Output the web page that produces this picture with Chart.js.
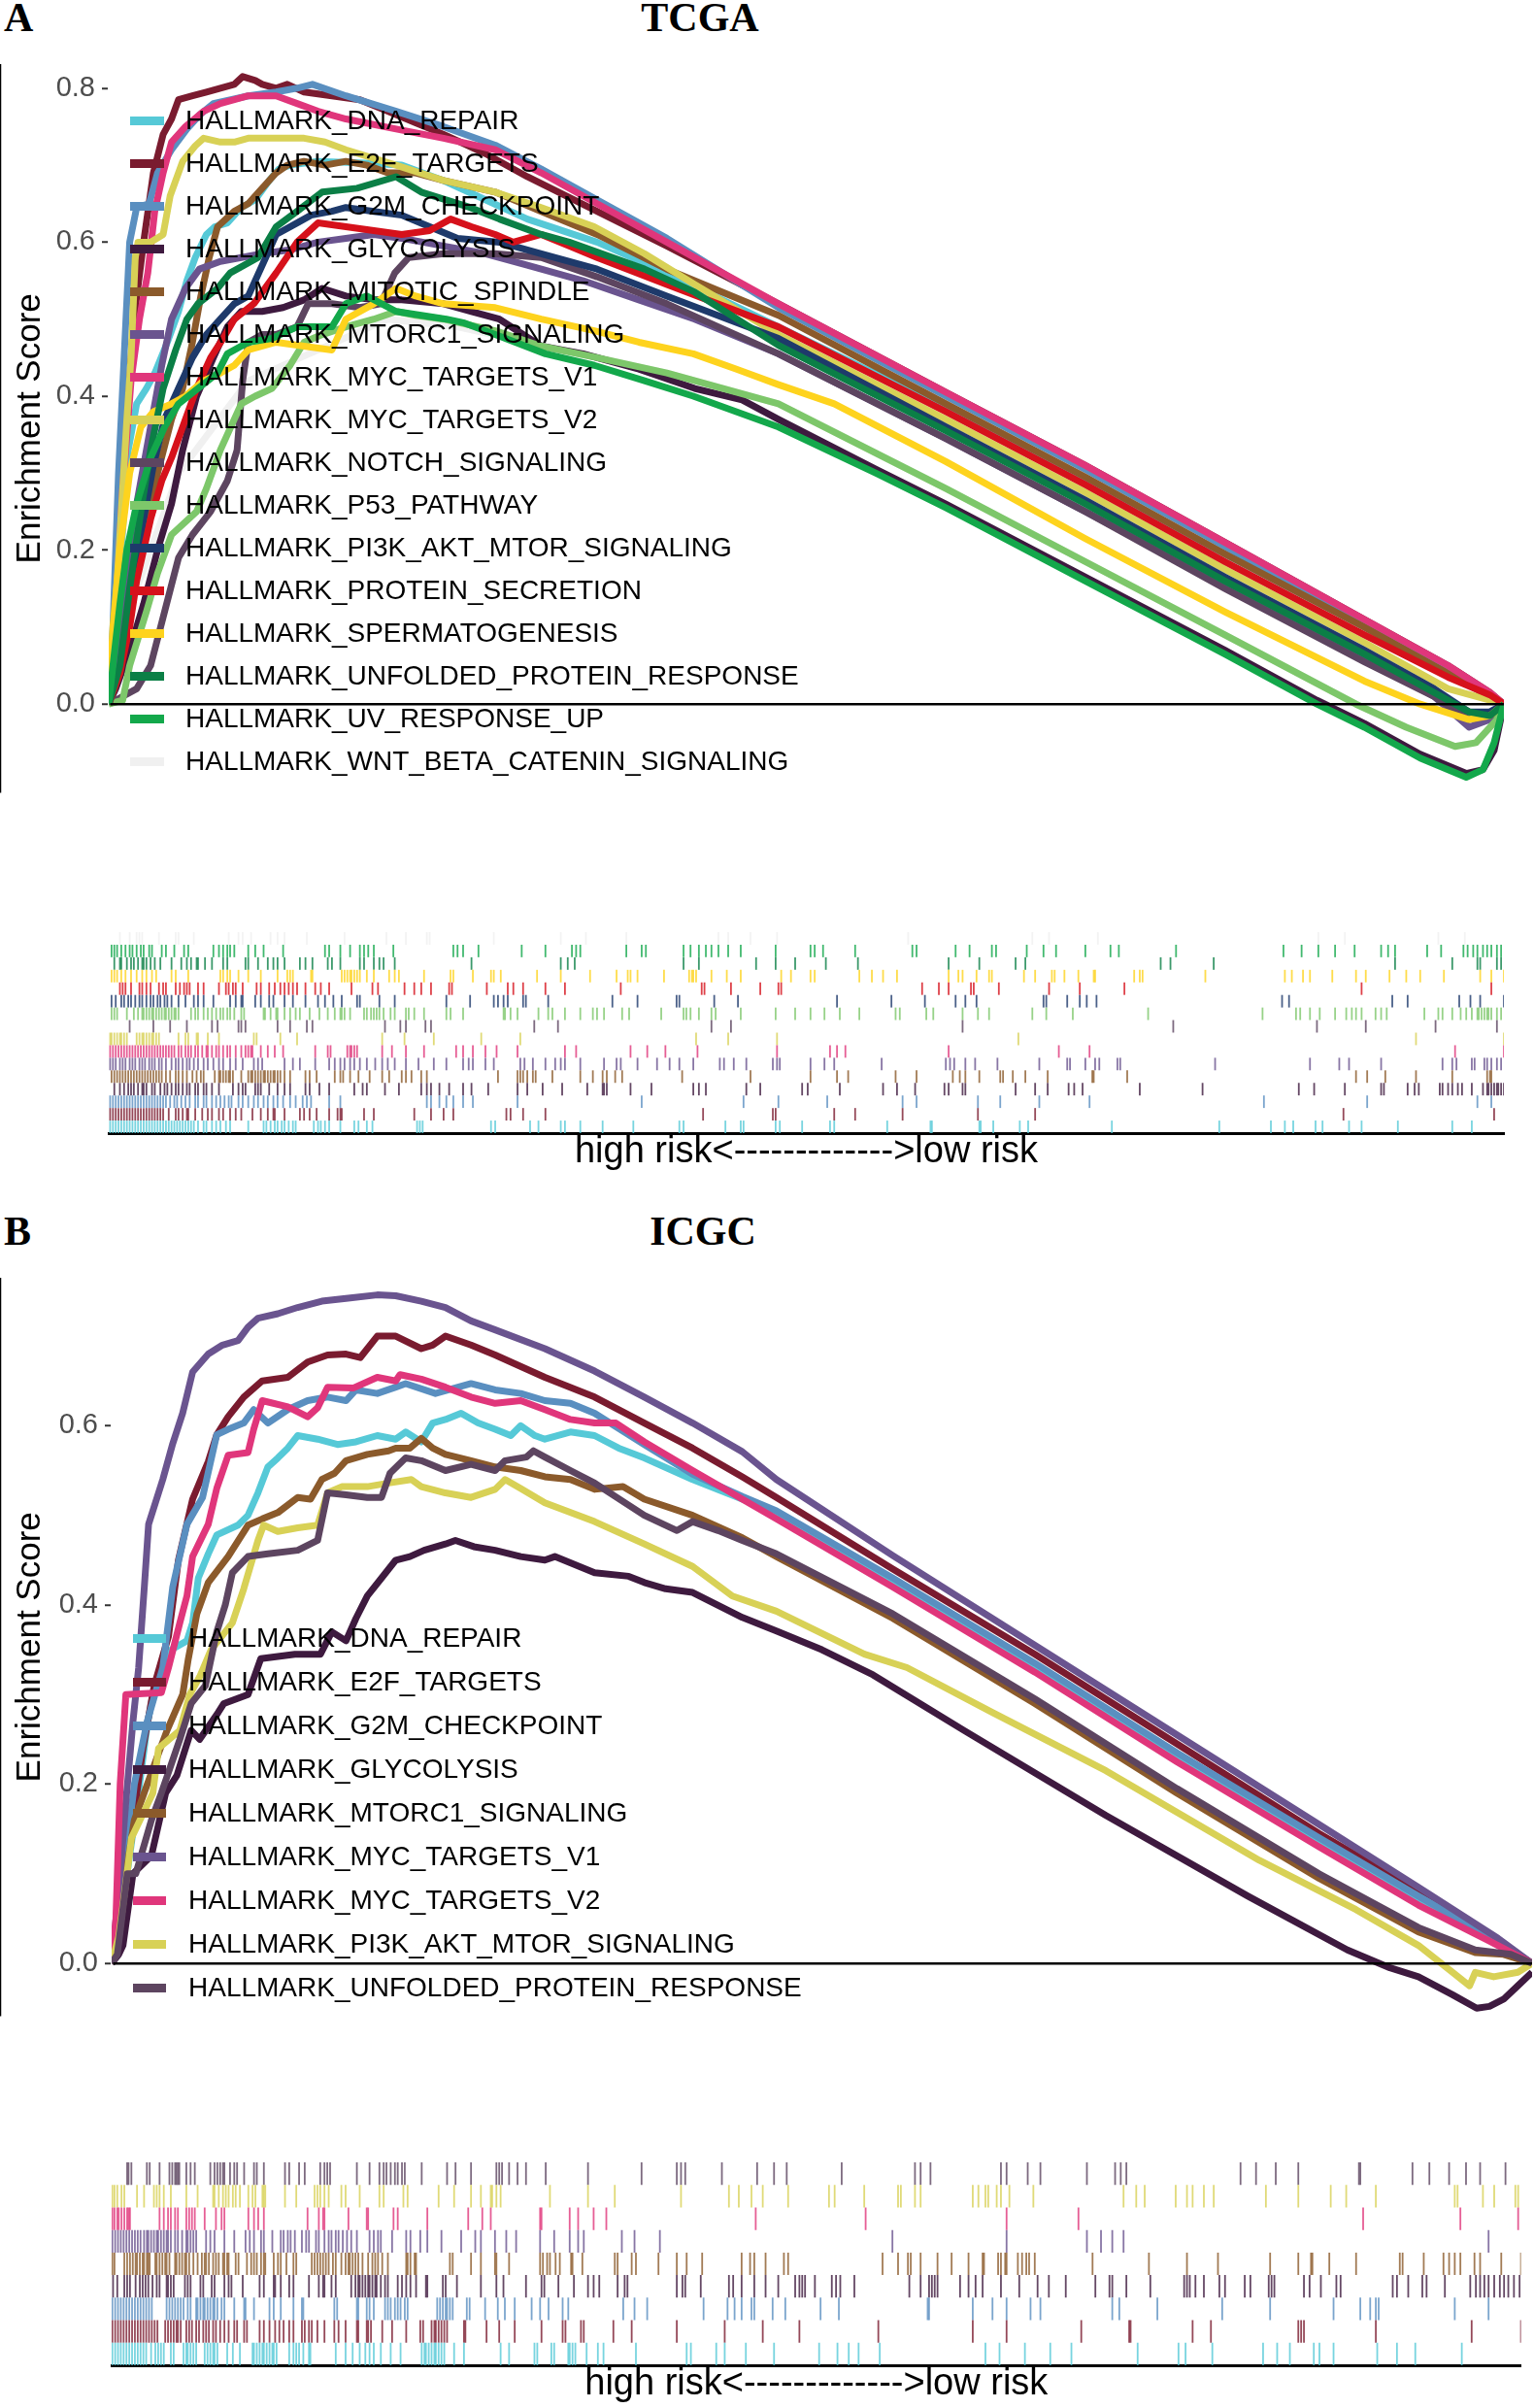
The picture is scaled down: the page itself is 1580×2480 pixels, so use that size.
<!DOCTYPE html>
<html>
<head>
<meta charset="utf-8">
<script src="https://cdn.jsdelivr.net/npm/chart.js@4.4.1/dist/chart.umd.min.js"></script>
<style>
body { margin: 0; background: #fff; width: 1580px; height: 2480px; position: relative; overflow: hidden; font-family: 'Liberation Sans', Arial, sans-serif; }
canvas { position: absolute; left: 0; }
.panel { position: absolute; font-family: 'Liberation Serif', 'Times New Roman', serif; font-weight: bold; font-size: 42px; line-height: 42px; color: #000; white-space: nowrap; }
.leg { position: absolute; font-size: 28px; line-height: 44px; color: #000; white-space: nowrap; }
.sw { position: absolute; height: 9px; }
</style>
</head>
<body>
<div class="panel" style="left:4px;top:-3px">A</div>
<div class="panel" style="left:721px;top:-3px;transform:translateX(-50%)">TCGA</div>
<div class="panel" style="left:4px;top:1247px">B</div>
<div class="panel" style="left:724px;top:1247px;transform:translateX(-50%)">ICGC</div>

<canvas id="tcgaLines" width="1580" height="800" style="top:40px"></canvas>
<canvas id="tcgaRug" width="1580" height="267" style="top:940px"></canvas>
<canvas id="icgcLines" width="1580" height="810" style="top:1290px"></canvas>
<canvas id="icgcRug" width="1580" height="276" style="top:2200px"></canvas>

<script>
// ---------- TCGA (panel A) ----------
const tcgaNames = [
  'HALLMARK_DNA_REPAIR', 'HALLMARK_E2F_TARGETS', 'HALLMARK_G2M_CHECKPOINT', 'HALLMARK_GLYCOLYSIS',
  'HALLMARK_MITOTIC_SPINDLE', 'HALLMARK_MTORC1_SIGNALING', 'HALLMARK_MYC_TARGETS_V1', 'HALLMARK_MYC_TARGETS_V2',
  'HALLMARK_NOTCH_SIGNALING', 'HALLMARK_P53_PATHWAY', 'HALLMARK_PI3K_AKT_MTOR_SIGNALING', 'HALLMARK_PROTEIN_SECRETION',
  'HALLMARK_SPERMATOGENESIS', 'HALLMARK_UNFOLDED_PROTEIN_RESPONSE', 'HALLMARK_UV_RESPONSE_UP', 'HALLMARK_WNT_BETA_CATENIN_SIGNALING'
];
const tcgaColors = [
  '#56C9D7', '#7A1B2F', '#5A8FC0', '#3E1A3F', '#8B5A2B', '#6A548F', '#E0367B', '#D8D156',
  '#5D4560', '#7DC76A', '#1E3A6B', '#D6111B', '#FED31E', '#0B7F46', '#13A84B', '#F0F0F0'
];
const tcgaTicks = [0, 0.2, 0.4, 0.6, 0.8];
// the near-white WNT set is hidden under the others in the original
const tcgaUnderneath = ['HALLMARK_WNT_BETA_CATENIN_SIGNALING'];

// running enrichment score, [rank %, ES]
const tcgaDnaRepair = [[0,0],[0.4,0.08],[0.9,0.2],[1.4,0.33],[2,0.39],[2.7,0.41],[3.3,0.43],[4.2,0.47],[5,0.51],[5.6,0.55],[6.2,0.58],[7,0.61],[7.6,0.62],[8.5,0.625],[9.5,0.645],[10.5,0.655],[11.5,0.68],[12.2,0.695],[13,0.7],[15,0.705],[18,0.703],[21,0.7],[24,0.68],[27,0.655],[30,0.63],[35,0.6],[40,0.56],[48,0.49],[60,0.385],[70,0.29],[80,0.195],[90,0.1],[96,0.04],[98.5,0.015],[100,0]];
const tcgaE2fTargets = [[0,0],[0.5,0.1],[1,0.3],[1.8,0.5],[2.5,0.6],[3.2,0.69],[3.9,0.74],[4.5,0.76],[5,0.785],[6,0.79],[7,0.795],[8,0.8],[9,0.805],[9.6,0.815],[10.5,0.81],[11,0.805],[12,0.8],[12.8,0.805],[14,0.795],[16,0.79],[18,0.785],[20,0.77],[22,0.755],[24,0.74],[27,0.715],[30,0.685],[35,0.64],[40,0.595],[48,0.52],[60,0.405],[70,0.31],[80,0.21],[90,0.11],[96,0.05],[99,0.015],[100,0]];
const tcgaG2mCheckpoint = [[0,0],[0.3,0.1],[0.7,0.3],[1.1,0.45],[1.5,0.6],[2,0.645],[2.9,0.65],[3.5,0.69],[4,0.705],[4.5,0.72],[5.6,0.747],[6.5,0.765],[7.5,0.78],[10,0.79],[12,0.795],[13.5,0.8],[14.6,0.805],[17,0.79],[20.6,0.77],[24,0.75],[27.7,0.726],[31,0.695],[35,0.655],[40,0.605],[48,0.515],[60,0.4],[70,0.305],[80,0.205],[90,0.105],[96,0.045],[99,0.012],[100,0]];
const tcgaGlycolysis = [[0,0],[0.5,0.02],[1.5,0.07],[2.5,0.13],[3.5,0.2],[4.5,0.26],[5.3,0.33],[6.3,0.4],[7.5,0.45],[8.5,0.49],[9.5,0.51],[11,0.51],[12.5,0.515],[14,0.525],[15.3,0.54],[17,0.53],[19,0.525],[21,0.525],[24,0.52],[26,0.51],[28,0.5],[31,0.465],[34,0.455],[38,0.435],[42,0.41],[45.4,0.395],[48,0.37],[55,0.305],[60,0.26],[70,0.165],[80,0.07],[86.6,0.005],[90,-0.025],[94,-0.065],[97.3,-0.09],[98.5,-0.085],[99.3,-0.06],[100,0]];
const tcgaMitoticSpindle = [[0,0],[0.5,0.03],[1.5,0.12],[2.5,0.22],[3.5,0.3],[4.5,0.37],[5.3,0.41],[6,0.47],[6.6,0.53],[7.2,0.58],[7.8,0.62],[9,0.64],[10,0.65],[11,0.67],[12,0.69],[12.8,0.7],[14,0.705],[15.5,0.7],[17,0.705],[18.5,0.7],[20,0.69],[22,0.69],[24,0.68],[27.7,0.665],[31,0.64],[35,0.61],[40,0.565],[48,0.505],[60,0.39],[70,0.295],[80,0.195],[90,0.1],[96,0.04],[99,0.01],[100,0]];
const tcgaMtorc1Signaling = [[0,0],[0.5,0.05],[1.2,0.15],[2,0.26],[3,0.36],[3.8,0.44],[4.5,0.5],[5.5,0.54],[6.5,0.565],[8,0.575],[9.5,0.58],[11,0.585],[13,0.59],[15,0.6],[17,0.605],[19,0.61],[21,0.605],[24,0.595],[27,0.585],[30,0.57],[34,0.55],[38,0.525],[42,0.5],[48,0.455],[60,0.345],[70,0.25],[80,0.155],[90,0.06],[95,0.01],[97.5,-0.03],[99,-0.02],[100,0]];
const tcgaMycTargetsV1 = [[0,0],[0.5,0.12],[1,0.28],[1.6,0.42],[2.2,0.5],[2.8,0.56],[3.3,0.64],[3.9,0.69],[4.5,0.73],[5.5,0.75],[6.8,0.77],[8,0.78],[10,0.79],[12,0.79],[13.5,0.78],[15,0.77],[17,0.76],[20.6,0.747],[24,0.735],[27.7,0.72],[31,0.69],[35,0.65],[40,0.6],[48,0.52],[60,0.405],[70,0.31],[80,0.21],[90,0.11],[96,0.05],[99,0.015],[100,0]];
const tcgaMycTargetsV2 = [[0,0],[0.4,0.1],[0.9,0.25],[1.3,0.37],[1.6,0.45],[1.9,0.58],[2.1,0.6],[3,0.6],[3.9,0.61],[4.4,0.66],[5.3,0.705],[6.2,0.725],[6.8,0.735],[8,0.73],[9,0.73],[10,0.735],[12,0.735],[14,0.735],[15.5,0.73],[17,0.72],[20.6,0.7],[24,0.68],[27.7,0.665],[31,0.645],[34.8,0.62],[38.4,0.585],[42,0.545],[48,0.48],[60,0.37],[70,0.275],[80,0.175],[90,0.08],[96,0.02],[99,0.005],[100,0]];
const tcgaNotchSignaling = [[0,0],[1,0.01],[2,0.02],[3,0.05],[4,0.12],[5,0.19],[6,0.22],[7.3,0.25],[8.5,0.29],[9.2,0.33],[9.6,0.42],[10,0.47],[11,0.48],[12,0.48],[13.5,0.49],[14.3,0.52],[16,0.52],[18,0.515],[19.5,0.52],[20.5,0.56],[21.5,0.58],[24,0.585],[27.7,0.585],[31,0.58],[35,0.555],[40,0.52],[48,0.455],[60,0.345],[70,0.25],[80,0.15],[90,0.055],[95,0.01],[97.5,-0.02],[99,-0.015],[100,0]];
const tcgaP53Pathway = [[0,0],[1,0.005],[1.5,0.05],[2.7,0.12],[3.5,0.17],[4.5,0.22],[6.3,0.25],[7,0.28],[8,0.33],[9.5,0.39],[10.5,0.4],[11.7,0.41],[13,0.44],[14,0.47],[15.3,0.48],[17,0.49],[19,0.5],[20.6,0.51],[22,0.505],[24,0.5],[27.7,0.485],[31,0.465],[35,0.45],[40,0.43],[48,0.39],[60,0.28],[70,0.185],[80,0.09],[89.4,0],[93,-0.03],[96.5,-0.055],[98,-0.05],[99.5,-0.02],[100,0]];
const tcgaPi3kAktMtorSignaling = [[0,0],[0.8,0.04],[1.5,0.12],[2.3,0.22],[3.2,0.31],[4,0.37],[5,0.41],[6,0.45],[7,0.48],[8,0.5],[9,0.52],[10,0.53],[11,0.57],[12,0.61],[13.5,0.625],[14.5,0.635],[16,0.64],[17,0.645],[19,0.64],[21,0.635],[23,0.62],[25,0.605],[28,0.6],[31,0.585],[35,0.565],[40,0.53],[48,0.475],[60,0.36],[70,0.265],[80,0.165],[90,0.07],[95,0.02],[97.5,-0.01],[99,-0.01],[100,0]];
const tcgaProteinSecretion = [[0,0],[0.8,0.04],[1.5,0.1],[2,0.16],[3,0.24],[3.8,0.29],[4.5,0.32],[5.5,0.37],[6.3,0.41],[7.3,0.45],[8.2,0.475],[9,0.5],[10.4,0.52],[12,0.56],[13.5,0.6],[15,0.625],[17,0.62],[19,0.615],[21,0.61],[23,0.615],[24.5,0.63],[26,0.62],[27.7,0.61],[29,0.6],[31,0.61],[33,0.595],[35,0.58],[40,0.545],[48,0.49],[60,0.38],[70,0.285],[80,0.185],[90,0.09],[96,0.035],[99,0.012],[100,0]];
const tcgaSpermatogenesis = [[0,0],[0.3,0.1],[0.8,0.2],[1.5,0.3],[2.3,0.36],[3.2,0.38],[4.5,0.39],[5.5,0.4],[6.8,0.42],[8,0.43],[9,0.44],[10,0.46],[12,0.47],[14,0.465],[16,0.46],[17,0.5],[19,0.52],[20.6,0.54],[22,0.53],[24,0.52],[27.7,0.515],[31,0.5],[34.8,0.485],[38,0.47],[41.9,0.455],[45,0.435],[48,0.415],[52,0.39],[60,0.315],[70,0.215],[80,0.12],[90,0.03],[94,0],[97.5,-0.02],[99,-0.015],[100,0]];
const tcgaUnfoldedProteinResponse = [[0,0],[0.8,0.05],[1.5,0.15],[2.3,0.25],[3,0.33],[3.9,0.41],[4.8,0.46],[5.6,0.5],[6.4,0.52],[7.8,0.54],[8.7,0.56],[10.7,0.58],[12,0.62],[13.5,0.64],[15.3,0.665],[17.8,0.67],[20.6,0.685],[22.4,0.665],[25.9,0.645],[28,0.63],[31,0.61],[33,0.6],[38.4,0.565],[42,0.535],[48,0.466],[60,0.355],[70,0.26],[80,0.16],[90,0.065],[95,0.015],[97.5,-0.01],[99,-0.015],[100,0]];
const tcgaUvResponseUp = [[0,0],[0.3,0.05],[0.8,0.13],[1.3,0.2],[2,0.26],[3,0.32],[4,0.36],[5,0.39],[6.4,0.41],[7.8,0.43],[8.5,0.455],[10,0.47],[11.7,0.475],[13.5,0.49],[16,0.49],[17,0.52],[18.5,0.53],[20.6,0.51],[22.4,0.505],[24.2,0.5],[25.5,0.495],[27.7,0.48],[31.3,0.455],[34.8,0.44],[38.4,0.42],[41.9,0.4],[48,0.36],[55,0.3],[60,0.255],[70,0.16],[80,0.065],[86.6,0],[90,-0.03],[94,-0.07],[97.3,-0.095],[98.5,-0.085],[99.3,-0.05],[100,0]];
const tcgaWntBetaCateninSignaling = [[0,0],[2,0.15],[5,0.3],[10,0.42],[15,0.46],[20,0.5],[25,0.49],[30,0.47],[40,0.43],[48,0.39],[60,0.28],[70,0.185],[80,0.09],[89.4,0],[93,-0.03],[96.5,-0.055],[98,-0.05],[99.5,-0.02],[100,0]];

// gene hit positions in the ranked list (rank %)
const tcgaHitsDnaRepair = [0.1,0.3,0.5,0.7,0.9,1.1,1.3,1.5,1.7,1.9,2.1,2.3,2.5,2.7,2.9,3.1,3.3,3.5,3.7,3.9,4.1,4.3,4.5,4.7,4.9,5.1,5.3,5.5,5.7,5.9,6.1,6.4,6.8,7.0,7.4,7.7,8.0,8.4,8.7,10.0,11.1,11.3,11.6,11.9,12.1,12.4,12.6,12.9,13.2,13.4,14.7,15.0,15.2,15.5,15.8,16.6,17.6,17.9,18.5,18.9,22.1,22.3,22.5,27.4,27.7,30.2,30.8,32.4,32.7,33.8,35.4,37.6,40.9,41.2,44.2,45.3,45.5,47.8,48.1,49.7,51.7,52.0,55.8,58.9,59.0,62.4,62.5,63.4,65.3,65.9,71.9,79.6,83.3,84.3,84.9,86.5,87.0,88.9,89.8,92.4,96.3,97.7];
const tcgaHitsE2fTargets = [0.1,0.3,0.5,0.7,0.9,1.1,1.3,1.5,1.7,1.9,2.1,2.3,2.5,2.7,2.9,3.1,3.3,3.5,3.7,3.9,4.3,4.8,5.0,5.3,5.6,5.7,6.2,6.7,7.1,7.4,7.9,8.2,8.7,9.1,9.5,10.3,10.9,11.4,11.8,11.9,12.6,13.7,14.0,14.4,14.9,15.8,16.4,16.6,16.7,18.3,19.0,21.9,23.1,24.0,24.7,28.5,28.8,29.7,31.3,42.6,47.6,47.8,52.0,53.5,56.9,62.3,66.4,88.5,99.3];
const tcgaHitsG2mCheckpoint = [0.1,0.3,0.5,0.7,0.9,1.1,1.3,1.5,1.7,1.9,2.1,2.3,2.5,2.7,2.9,3.1,3.3,3.5,3.7,3.9,4.1,4.4,4.7,4.9,5.2,5.5,5.8,6.2,6.4,6.8,7.0,7.4,7.7,8.0,8.3,8.6,8.8,9.3,9.6,10.0,10.4,10.7,11.1,11.4,11.8,12.1,12.5,13.0,13.4,13.9,14.2,14.5,15.8,16.6,22.8,23.1,23.7,24.2,24.7,25.4,26.1,29.3,38.2,45.5,48.0,51.5,56.9,57.9,62.3,63.9,66.7,70.3,82.8,90.2,98.1,99.1];
const tcgaHitsGlycolysis = [0.4,0.8,1.1,1.4,1.6,1.8,2.1,2.4,2.5,2.7,3.1,3.3,3.7,4.0,4.2,4.5,4.8,5.0,5.3,5.6,5.8,6.2,6.4,6.8,7.0,7.4,7.9,8.9,9.3,9.6,9.8,10.5,10.7,10.9,11.5,12.1,12.6,13.0,14.1,14.4,15.1,15.8,17.6,18.2,18.5,19.8,20.8,22.4,22.8,23.1,23.7,24.4,25.4,26.0,27.2,29.3,30.0,31.1,32.5,34.3,35.4,35.5,35.7,37.4,38.9,41.9,42.3,42.8,45.7,46.7,49.7,50.1,52.4,55.5,56.5,57.8,59.9,60.2,61.2,61.4,65.0,66.4,67.3,68.8,69.2,69.8,73.9,78.4,85.3,86.4,88.6,91.2,91.4,93.1,93.6,93.9,95.4,95.6,96.0,96.3,96.7,97.0,97.7,98.5,98.8,98.9,99.1,99.3,99.5,99.6,99.8,100];
const tcgaHitsMitoticSpindle = [0.2,0.4,0.6,0.8,1.0,1.2,1.4,1.6,1.8,2.0,2.2,2.4,2.6,2.8,3.0,3.2,3.4,3.6,3.8,4.1,4.4,4.8,5.0,5.3,5.6,6.0,6.3,6.6,6.8,7.6,7.9,8.0,8.2,8.4,8.6,8.7,8.9,9.5,10.0,10.2,10.3,10.5,10.7,10.9,11.1,11.2,11.4,11.6,11.8,11.9,12.1,12.3,12.6,13.0,14.1,14.4,14.9,16.2,16.6,16.8,17.3,17.9,18.7,19.6,20.1,21.0,21.3,21.7,22.4,22.8,27.9,29.3,29.5,29.7,30.0,30.4,30.6,31.8,33.8,34.7,35.4,35.7,36.3,36.8,41.1,46.0,50.3,52.2,53.0,56.4,57.9,60.5,61.0,61.4,62.4,63.9,64.1,64.8,65.7,67.3,70.5,70.6,73.0,89.4,90.2,91.5,93.7,96.3,98.8,99.0,99.1];
const tcgaHitsMtorc1Signaling = [0.1,0.3,0.5,0.8,1.0,1.2,1.5,1.7,1.9,2.2,2.4,2.6,2.9,3.1,3.3,3.6,3.8,4.1,4.5,4.8,5.0,5.3,5.6,5.8,6.1,6.4,6.8,7.1,7.5,7.9,8.2,8.7,9.1,9.6,10.4,10.7,11.0,12.6,13.2,13.7,14.8,15.8,16.2,16.6,16.9,17.3,17.6,18.0,18.5,19.1,19.6,20.0,20.5,21.3,22.2,23.3,24.2,25.4,25.8,26.1,27.0,27.6,29.5,29.8,30.4,31.3,32.0,32.4,32.7,33.8,35.5,36.4,36.7,37.9,39.3,40.2,40.9,41.9,43.8,44.1,44.8,45.7,47.6,47.9,48.1,50.3,51.3,52.0,55.4,60.0,60.3,60.6,61.4,62.1,63.7,66.7,68.7,68.9,70.0,70.7,71.0,72.3,72.5,79.3,86.1,88.2,88.9,91.2,95.6,96.3,96.6,97.7,97.9,98.6,98.8,99.1,99.5,99.8];
const tcgaHitsMycTargetsV1 = [0.1,0.3,0.5,0.7,0.9,1.1,1.3,1.5,1.7,1.9,2.1,2.3,2.5,2.7,2.9,3.1,3.3,3.5,3.7,3.9,4.1,4.3,4.5,4.7,5.0,5.2,5.5,5.7,5.9,6.2,6.4,6.7,7.0,7.1,7.4,7.7,7.9,8.2,8.5,8.7,9.1,9.5,9.8,10.0,10.2,10.3,10.9,11.4,11.9,12.5,14.8,15.7,15.9,17.1,17.3,17.4,17.6,17.8,19.6,20.3,21.3,22.6,24.9,25.4,26.1,27.0,27.8,29.3,32.7,33.5,37.4,38.6,39.9,42.2,47.9,51.7,52.2,52.8,60.2,68.1,70.3,96.5,100];
const tcgaHitsMycTargetsV2 = [0.1,0.2,0.4,0.6,0.8,0.9,1.1,1.3,2.0,2.2,2.4,2.5,2.7,2.9,3.1,3.2,3.4,3.6,5.0,5.5,5.7,6.3,6.4,7.1,7.9,10.4,10.6,12.3,13.5,19.6,21.2,23.3,26.7,29.5,42.1,44.4,47.9,65.2,93.7,100];
const tcgaHitsNotchSignaling = [1.5,3.2,4.4,5.6,7.4,7.8,9.3,9.5,9.8,12.1,13.0,14.2,14.6,19.8,20.9,21.3,22.7,23.1,30.5,32.2,43.2,44.6,61.2,76.3,86.6,90.1,95.1,99.5];
const tcgaHitsP53Pathway = [0.2,0.4,0.6,1.3,1.8,2.1,2.4,2.5,2.7,2.9,3.1,3.2,3.4,3.6,3.8,4.0,4.1,4.3,4.5,4.7,4.8,5.0,5.9,6.2,6.4,6.8,7.1,7.4,7.7,8.0,8.2,8.5,8.7,9.0,9.5,9.7,11.1,11.2,11.6,12.0,12.1,12.6,13.0,13.4,13.7,14.4,15.1,15.7,16.2,16.6,16.7,16.9,17.3,18.3,18.5,18.8,19.0,19.2,19.4,19.7,20.2,20.5,21.3,21.5,21.9,22.6,24.2,24.5,25.4,28.3,28.4,28.8,29.3,30.8,31.5,31.8,32.7,33.8,34.7,35.0,35.5,36.8,37.3,39.6,41.2,41.4,41.7,42.3,43.2,43.5,45.3,47.8,49.2,50.3,51.3,52.4,53.8,56.4,56.7,58.6,59.1,61.2,62.3,63.1,66.2,67.2,69.1,74.5,82.7,85.1,85.4,86.1,86.8,87.9,88.7,89.1,89.4,89.8,90.8,91.2,91.6,94.3,95.3,95.6,96.3,96.9,97.3,97.7,98.1,98.2,98.4,98.6,98.8,98.9,99.1,99.5,99.8];
const tcgaHitsPi3kAktMtorSignaling = [0.2,0.5,0.9,1.1,1.4,1.6,1.9,2.2,2.4,2.7,3.0,3.2,3.5,3.7,4.0,4.2,4.5,5.0,5.5,6.1,6.4,6.8,7.5,8.7,9.1,9.5,9.6,10.5,10.9,11.5,11.8,12.6,13.2,14.1,15.0,15.5,16.1,16.7,17.8,18.0,19.4,20.5,24.2,25.9,27.6,27.9,28.3,28.6,29.7,29.9,31.5,36.1,37.9,40.7,40.9,43.4,45.1,52.2,56.1,58.5,60.7,61.4,62.2,67.0,67.2,68.7,69.6,70.1,70.8,84.1,84.6,92.0,93.1,96.8,97.6,98.3,100];
const tcgaHitsProteinSecretion = [0.8,1.0,1.2,1.6,2.2,2.4,2.7,3.0,3.6,3.9,4.1,4.8,5.1,5.4,5.6,5.8,6.4,6.8,7.9,8.4,8.6,8.9,9.1,9.6,10.6,10.9,11.5,11.9,12.3,12.6,12.9,13.2,13.5,14.1,14.8,15.2,15.8,17.4,18.9,19.3,21.2,21.9,22.4,23.1,24.4,24.6,27.1,28.6,29.0,29.7,31.3,32.7,36.7,42.5,42.7,44.6,46.7,48.0,48.2,58.3,59.5,60.2,61.8,62.0,63.8,67.4,69.6,72.8,89.8,99.1];
const tcgaHitsSpermatogenesis = [0.2,0.4,0.6,0.9,1.2,1.6,2.0,2.4,2.7,3.1,3.4,4.5,4.8,5.7,8.0,8.2,8.5,8.7,9.3,10.0,10.9,12.1,12.8,13.0,13.2,14.5,14.6,16.7,16.9,17.1,17.3,17.4,17.6,17.8,18.0,18.5,19.0,20.1,20.5,20.8,22.6,24.5,24.7,26.1,27.4,27.6,28.1,30.7,32.4,34.5,36.4,37.2,37.4,37.9,39.8,41.6,41.8,41.9,42.1,43.2,44.3,45.3,48.2,48.9,50.3,50.6,53.8,54.7,55.5,56.5,60.2,60.9,61.2,62.2,63.1,63.3,65.6,66.4,67.6,67.8,68.5,69.5,70.6,70.7,73.5,73.9,74.1,78.6,84.3,84.8,85.6,86.1,87.7,89.4,90.1,91.8,93.0,94.0,95.7,98.3,99.1,100];
const tcgaHitsUnfoldedProteinResponse = [0.4,0.8,0.9,1.3,1.6,1.8,2.1,2.4,2.5,2.7,3.0,3.3,3.7,4.5,5.2,5.6,5.9,6.3,6.4,6.9,7.4,8.2,8.5,9.8,10.0,10.7,11.4,11.8,12.1,12.6,13.7,14.1,14.6,15.7,16.0,16.6,18.0,18.3,19.0,19.4,19.7,20.5,26.0,32.4,32.9,33.4,41.2,42.3,46.4,47.8,49.2,51.4,53.7,60.2,62.4,65.0,65.7,75.4,76.1,79.2,92.2,96.3,98.1,98.3,99.5,99.8];
const tcgaHitsUvResponseUp = [0.2,0.4,0.6,0.9,1.2,1.5,1.7,2.0,2.3,2.5,2.9,3.1,3.8,4.1,4.7,5.4,5.7,7.5,7.9,8.2,8.5,8.7,9.0,10.0,10.5,11.1,12.5,15.5,15.8,16.6,17.3,18.0,18.3,18.6,19.0,20.4,24.7,25.0,25.4,26.5,29.6,31.3,33.2,33.5,33.8,37.1,38.2,38.5,41.2,41.7,42.3,42.8,43.2,43.7,44.4,45.3,47.8,50.3,50.6,51.2,53.5,57.6,57.9,60.7,61.7,63.3,63.6,65.8,67.0,67.9,70.0,71.8,72.4,76.5,84.2,85.5,86.7,87.9,89.3,91.2,91.7,92.2,94.5,95.5,97.1,97.4,97.8,98.1,98.5,98.8,99.1,99.5,99.8];
const tcgaHitsWntBetaCateninSignaling = [0.8,1.5,2.0,2.2,2.4,3.6,4.8,5.0,6.1,8.6,9.3,9.6,10.2,11.6,12.1,12.6,14.2,16.9,19.9,21.3,22.8,23.0,27.6,32.4,34.2,37.1,43.7,44.4,46.0,47.9,57.3,66.2,67.4,70.9,86.7,88.6,95.3,97.2];

// ---------- ICGC (panel B) ----------
const icgcNames = [
  'HALLMARK_DNA_REPAIR', 'HALLMARK_E2F_TARGETS', 'HALLMARK_G2M_CHECKPOINT', 'HALLMARK_GLYCOLYSIS',
  'HALLMARK_MTORC1_SIGNALING', 'HALLMARK_MYC_TARGETS_V1', 'HALLMARK_MYC_TARGETS_V2', 'HALLMARK_PI3K_AKT_MTOR_SIGNALING',
  'HALLMARK_UNFOLDED_PROTEIN_RESPONSE'
];
const icgcColors = ['#56C9D7', '#7A1B2F', '#5A8FC0', '#3E1A3F', '#8B5A2B', '#6A548F', '#E0367B', '#D8D156', '#5D4560'];
const icgcTicks = [0, 0.2, 0.4, 0.6];

const icgcDnaRepair = [[0,0],[0.5,0.04],[1,0.09],[1.8,0.18],[2.5,0.265],[2.9,0.3],[4.2,0.35],[5.3,0.36],[5.7,0.38],[6.1,0.43],[6.8,0.457],[7.4,0.478],[8.9,0.489],[9.6,0.5],[10.3,0.525],[11,0.554],[11.7,0.564],[12.4,0.575],[13.1,0.589],[14.5,0.585],[15.9,0.579],[17.2,0.582],[18.7,0.589],[20,0.585],[20.7,0.593],[21.8,0.582],[22.6,0.603],[23.5,0.607],[24.6,0.614],[25.8,0.603],[27,0.596],[28.1,0.589],[28.8,0.6],[29.8,0.589],[30.5,0.585],[32.3,0.593],[34,0.589],[35.7,0.575],[37.5,0.564],[40.9,0.54],[44.4,0.518],[46.8,0.503],[55,0.425],[65,0.33],[75,0.23],[85,0.135],[92,0.07],[97,0.03],[100,0]];
const icgcE2fTargets = [[0,0],[0.5,0.04],[1,0.1],[1.6,0.17],[2.2,0.24],[3,0.31],[4,0.365],[4.7,0.45],[5.7,0.518],[6.8,0.56],[7.4,0.59],[8.2,0.61],[9.3,0.632],[10.6,0.65],[12.4,0.654],[13.8,0.671],[15.2,0.679],[16.5,0.68],[17.5,0.676],[18.7,0.7],[20,0.7],[21.8,0.686],[22.6,0.69],[23.5,0.7],[25.3,0.69],[27,0.679],[30.5,0.654],[34,0.632],[37.5,0.603],[40.9,0.575],[44.4,0.543],[46.8,0.52],[55,0.44],[65,0.345],[75,0.245],[85,0.145],[92,0.08],[97,0.03],[100,0]];
const icgcG2mCheckpoint = [[0,0],[0.5,0.05],[1,0.12],[1.6,0.2],[2.5,0.27],[3.6,0.33],[4.3,0.42],[5.3,0.49],[6.4,0.52],[7.4,0.59],[8.2,0.596],[9.3,0.603],[10,0.618],[11,0.603],[12.4,0.618],[13.8,0.628],[15.2,0.632],[16.5,0.628],[17.2,0.64],[18.7,0.636],[20,0.643],[20.7,0.647],[22.8,0.636],[25.3,0.647],[27,0.64],[28.8,0.636],[30.5,0.628],[32.3,0.625],[34,0.614],[37.5,0.579],[40.9,0.546],[44.4,0.521],[46.8,0.505],[55,0.43],[65,0.335],[75,0.235],[85,0.14],[92,0.075],[97,0.03],[100,0]];
const icgcGlycolysis = [[0,0],[0.5,0.01],[0.8,0.02],[1.5,0.1],[2.8,0.12],[3.8,0.19],[4.6,0.21],[5.6,0.26],[6.2,0.25],[7.5,0.28],[7.9,0.29],[9.6,0.3],[10.5,0.34],[12.9,0.345],[14.7,0.345],[15.5,0.37],[16.5,0.36],[17.2,0.385],[18,0.41],[19,0.43],[20,0.45],[21,0.454],[22,0.461],[23.5,0.468],[24.2,0.472],[25.5,0.465],[27,0.461],[28.8,0.454],[30.5,0.45],[31.2,0.454],[34,0.436],[36.4,0.432],[37.5,0.425],[39,0.418],[40.9,0.414],[44.4,0.386],[46.8,0.371],[50,0.35],[53.6,0.322],[60,0.26],[70,0.165],[80,0.075],[87,0.015],[90,-0.005],[92,-0.015],[94.4,-0.035],[96.1,-0.05],[97,-0.048],[98,-0.04],[99,-0.025],[100,-0.01]];
const icgcMtorc1Signaling = [[0,0],[0.3,0.03],[1,0.1],[1.6,0.16],[3.2,0.23],[3.9,0.26],[5,0.3],[5.4,0.34],[6,0.39],[6.8,0.425],[8.2,0.454],[9.6,0.489],[10.6,0.496],[11.7,0.503],[13.1,0.52],[14,0.518],[14.8,0.54],[15.7,0.547],[16.5,0.561],[18,0.568],[19.5,0.572],[20,0.575],[21,0.575],[21.8,0.586],[22.6,0.575],[23.5,0.568],[25.3,0.561],[27,0.554],[28.8,0.55],[30.5,0.543],[32.3,0.54],[34,0.529],[36,0.532],[37.5,0.518],[40.9,0.5],[44.4,0.475],[46.8,0.454],[55,0.385],[65,0.29],[75,0.19],[85,0.095],[92,0.035],[96,0.012],[98,0.01],[100,0]];
const icgcMycTargetsV1 = [[0,0],[0.5,0.08],[1,0.18],[1.5,0.27],[1.9,0.33],[2.3,0.42],[2.6,0.49],[3.6,0.54],[4.3,0.58],[5,0.614],[5.7,0.66],[6.8,0.68],[7.8,0.69],[8.9,0.695],[9.6,0.71],[10.3,0.72],[11.7,0.725],[13.1,0.732],[14.8,0.739],[16.5,0.742],[18.7,0.746],[20,0.745],[21.8,0.739],[23.5,0.732],[25.3,0.717],[27,0.707],[30.5,0.686],[34,0.661],[37.5,0.632],[40.9,0.603],[44.4,0.571],[46.8,0.54],[55,0.455],[65,0.355],[75,0.255],[85,0.155],[92,0.085],[97.6,0.028],[100,0]];
const icgcMycTargetsV2 = [[0,0],[0.3,0.05],[0.6,0.2],[1,0.3],[3.5,0.302],[4,0.33],[4.8,0.38],[5.3,0.41],[5.7,0.454],[6.8,0.49],[7.4,0.53],[8.2,0.567],[9.6,0.57],[10,0.596],[10.6,0.628],[12.4,0.621],[13.8,0.61],[14.5,0.62],[15.2,0.643],[17,0.642],[18.7,0.654],[20,0.65],[20.3,0.657],[21.8,0.652],[23.5,0.643],[25.3,0.632],[27,0.625],[28.8,0.628],[30.5,0.618],[32.3,0.607],[34,0.603],[35.5,0.603],[37.5,0.582],[40.9,0.55],[44.4,0.518],[46.8,0.496],[55,0.42],[65,0.325],[75,0.225],[85,0.13],[92,0.065],[97,0.025],[100,0]];
const icgcPi3kAktMtorSignaling = [[0,0],[0.5,0.03],[1,0.09],[1.4,0.14],[2.9,0.19],[3.3,0.24],[4.8,0.26],[5.5,0.3],[6.2,0.32],[7,0.35],[8.5,0.38],[9.3,0.418],[10.3,0.472],[10.7,0.489],[11.7,0.482],[13.1,0.486],[14.5,0.489],[15.2,0.525],[16.2,0.532],[18,0.532],[19.5,0.536],[21.1,0.54],[21.8,0.532],[23.5,0.525],[25.3,0.52],[27,0.529],[27.7,0.54],[28.8,0.53],[30.5,0.514],[34,0.493],[37.5,0.468],[40.9,0.443],[43.7,0.41],[46.8,0.393],[53,0.345],[56,0.33],[62,0.28],[70,0.215],[80.8,0.115],[87.6,0.06],[92,0.02],[94.4,-0.01],[95.6,-0.025],[96,-0.01],[97.3,-0.015],[99,-0.01],[100,0]];
const icgcUnfoldedProteinResponse = [[0,0],[0.4,0.01],[1.1,0.1],[1.7,0.1],[2.8,0.16],[3.5,0.19],[4.8,0.25],[5.6,0.29],[6.6,0.31],[7.4,0.37],[8,0.4],[8.5,0.436],[9.6,0.454],[11,0.457],[13.1,0.461],[14.5,0.472],[15.2,0.525],[16.5,0.523],[18,0.52],[19,0.52],[19.6,0.547],[20.7,0.564],[21.8,0.561],[23.5,0.55],[25.3,0.557],[27,0.55],[27.7,0.561],[29.2,0.565],[29.7,0.572],[30.5,0.565],[32.3,0.55],[34,0.536],[37.5,0.5],[39.8,0.483],[40.9,0.493],[42.7,0.483],[44.4,0.472],[46.8,0.457],[55,0.39],[65,0.295],[75,0.195],[85,0.1],[92,0.04],[96,0.015],[98.5,0.01],[100,0]];

const icgcHitsDnaRepair = [0.05,0.25,0.45,0.65,0.85,1.05,1.25,1.45,1.65,1.85,2.05,2.25,2.45,2.8,3.1,3.3,3.5,3.7,4.2,4.4,5.1,5.3,5.4,5.6,5.8,6.0,6.6,6.8,7.0,7.2,7.3,7.5,8.2,8.6,9.1,10.0,10.1,10.3,10.5,10.7,10.8,11.0,11.2,11.4,11.5,11.7,12.6,12.9,13.1,13.3,13.6,14.0,14.1,15.9,16.6,17.1,17.6,18.0,18.3,18.6,19.1,19.8,20.5,22.0,22.2,22.3,22.5,22.7,22.9,23.0,23.2,23.4,23.6,24.3,25.0,27.6,28.2,30.0,30.2,31.2,31.4,32.4,32.5,32.7,32.9,33.7,34.5,34.9,37.2,40.8,41.1,42.9,43.5,45.0,47.0,50.2,51.5,52.3,53.0,54.5,62.0,63.0,64.8,66.6,68.1,72.8,75.7,76.2,78.1,81.7,82.7,83.6,85.3,85.7,86.7,89.8,91.2,92.5,95.8];
const icgcHitsE2fTargets = [0.05,0.25,0.45,0.65,0.85,1.05,1.25,1.45,1.65,1.85,2.05,2.25,2.45,2.65,2.85,3.05,3.25,3.8,4.0,4.2,4.4,4.6,4.7,4.9,5.3,5.5,5.7,6.0,6.2,6.5,6.7,6.9,7.2,7.4,7.7,8.0,8.3,8.7,8.9,9.4,9.6,10.5,10.8,11.2,11.6,11.9,12.2,12.6,12.9,13.5,13.7,14.0,14.2,14.6,15.1,15.8,16.1,16.6,17.4,17.5,18.1,18.2,18.4,19.2,19.9,20.9,21.9,22.1,22.7,22.9,23.0,23.2,23.4,23.6,23.8,25.0,25.1,26.6,27.5,28.6,30.5,32.0,32.2,33.3,33.5,35.6,36.9,40.1,43.5,46.2,48.8,54.4,61.1,63.5,68.8,72.2,72.3,76.7,78.0,84.2,84.4,84.6,89.7,96.5,100];
const icgcHitsG2mCheckpoint = [0.05,0.25,0.45,0.65,0.85,1.05,1.25,1.45,1.65,1.85,2.05,2.25,2.45,2.65,2.85,3.9,4.1,4.3,4.5,4.7,4.9,5.1,5.4,5.6,6.0,6.1,6.3,6.5,6.6,6.8,7.0,7.2,7.3,7.5,7.8,8.0,8.7,9.4,9.5,10.1,11.2,11.5,12.0,12.9,13.5,13.6,15.8,16.0,17.4,17.5,18.1,18.3,18.6,19.4,19.6,19.8,20.1,20.3,20.5,20.8,21.0,23.1,23.3,23.5,23.7,23.8,24.0,24.2,25.2,25.4,26.5,27.4,27.9,28.6,29.8,30.4,31.0,32.0,32.4,36.3,37.1,38.0,42.0,43.7,44.2,44.7,45.4,45.6,46.9,47.8,50.3,51.6,57.9,58.0,61.1,62.5,63.5,65.2,65.9,71.0,71.5,74.2,78.8,82.2,86.7,88.6,89.3,89.7,89.9,95.3,97.7];
const icgcHitsGlycolysis = [0.1,0.4,0.9,1.1,1.3,1.7,2.0,2.2,2.4,2.6,2.9,3.2,3.4,3.9,4.0,4.2,4.4,5.2,5.4,5.6,6.3,6.5,7.1,7.3,8.0,8.3,8.5,9.3,10.5,10.8,11.5,11.6,12.0,12.6,12.9,14.0,14.7,15.0,15.1,15.6,15.9,17.0,17.3,17.5,17.6,17.8,18.0,18.2,18.3,18.5,18.7,18.8,19.1,19.4,19.6,20.3,20.6,20.9,21.2,21.6,22.3,22.4,23.5,23.7,24.5,26.2,27.3,27.8,29.4,30.5,30.7,31.7,32.8,33.8,34.2,34.6,35.9,36.4,36.6,40.1,40.5,40.7,41.8,43.8,44.1,44.7,45.6,46.4,47.3,48.5,48.8,49.0,49.2,49.9,51.1,51.4,51.7,52.7,56.6,57.4,58.0,58.2,58.4,58.6,60.2,60.8,61.3,61.8,63.1,64.4,65.7,66.5,67.7,69.8,70.8,71.0,72.0,73.7,76.1,76.3,76.5,76.9,77.5,78.6,79.0,80.4,80.8,82.1,82.3,82.5,84.6,85.0,85.8,86.9,87.2,90.9,91.2,92.0,93.0,93.3,94.6,96.4,96.8,97.1,97.4,97.7,98.1,98.5,98.8,99.1,99.5,99.9];
const icgcHitsMtorc1Signaling = [0.05,0.2,0.9,1.1,1.3,1.5,1.7,1.8,2.0,2.2,2.3,2.5,2.6,2.7,3.1,3.2,3.4,3.6,3.8,3.9,4.1,4.5,4.6,4.8,5.0,5.2,5.3,5.5,5.8,6.1,6.4,6.6,6.7,6.9,7.2,7.4,7.6,7.9,8.0,8.2,8.3,8.8,9.0,9.6,9.9,10.1,10.3,10.6,10.8,10.9,11.5,11.8,12.0,12.4,12.9,13.1,14.2,14.4,14.6,14.8,15.0,15.2,15.4,15.7,15.9,16.3,16.6,16.8,16.9,17.1,17.3,17.5,17.8,18.2,18.5,18.7,18.9,19.2,19.6,20.9,21.0,21.2,21.5,21.6,24.0,24.2,25.5,26.2,27.2,27.3,28.2,30.4,30.6,30.9,31.1,31.5,31.8,32.6,32.7,33.4,35.7,35.9,36.9,37.2,38.8,40.1,40.8,41.9,44.7,45.3,45.6,46.4,47.7,48.0,54.7,55.8,56.5,56.7,57.4,58.6,59.6,60.8,61.8,61.9,62.9,63.1,63.4,63.5,64.3,64.6,64.9,65.1,65.5,69.6,73.6,76.3,78.5,82.2,84.2,85.1,85.2,86.4,88.3,91.4,91.6,93.1,94.5,94.9,95.3,95.7,96.7,97.1,98.6,100];
const icgcHitsMycTargetsV1 = [0.05,0.25,0.45,0.65,0.85,1.05,1.25,1.45,1.65,1.85,2.05,2.3,2.5,2.6,2.8,3.0,3.2,3.3,3.5,3.7,3.9,4.0,4.2,4.5,4.7,5.0,5.3,5.4,5.6,5.8,6.0,6.7,7.0,7.3,8.0,8.7,9.5,9.8,10.1,10.6,10.8,11.4,12.0,12.2,12.5,12.7,13.0,13.5,13.8,14.0,14.5,14.7,15.1,15.4,15.6,15.9,16.1,16.4,16.7,17.0,17.4,18.3,18.6,18.9,19.1,19.9,20.9,21.2,21.9,22.4,23.4,24.8,25.8,26.2,27.2,28.0,28.7,30.4,31.4,32.5,33.1,33.5,36.2,37.1,38.9,55.4,63.5,69.2,70.2,71.0,71.8,97.7];
const icgcHitsMycTargetsV2 = [0.05,0.2,0.4,0.5,0.7,0.9,1.1,1.2,1.3,3.4,3.7,4.0,4.2,4.5,4.7,5.3,5.5,5.7,5.9,6.6,7.4,7.8,8.0,9.7,10.1,10.4,10.8,13.9,14.7,15.0,15.1,16.8,18.1,18.2,20.0,20.3,22.4,25.3,26.3,26.9,30.4,30.5,32.5,33.1,34.2,35.1,45.7,53.5,63.5,68.6,88.8,95.7,99.8];
const icgcHitsPi3kAktMtorSignaling = [0.05,0.2,0.4,0.7,0.9,1.8,2.3,3.0,3.2,3.4,3.7,4.2,5.3,6.1,7.2,7.3,7.6,7.9,8.1,8.3,8.6,8.8,9.1,9.7,10.0,10.2,10.7,10.8,10.9,12.3,13.1,14.4,14.6,14.8,15.1,15.4,16.3,16.6,17.6,19.0,19.3,20.7,21.0,23.2,24.3,25.5,26.2,26.9,27.0,27.3,27.6,31.1,33.8,35.7,40.4,43.8,44.5,45.4,46.2,48.0,50.9,51.3,53.4,55.8,56.0,57.0,57.4,61.1,61.5,62.0,62.2,62.8,63.1,63.7,65.4,71.8,72.7,73.3,75.5,76.3,76.7,77.5,78.2,81.9,84.2,86.5,87.6,89.7,95.3,95.5,97.3,98.1,99.6,99.8];
const icgcHitsUnfoldedProteinResponse = [1.1,1.2,1.4,2.5,2.7,3.4,4.1,4.3,4.5,4.6,4.7,4.8,5.3,5.6,5.9,7.0,7.3,7.5,7.7,7.9,8.0,8.4,8.7,8.9,9.4,10.1,10.3,10.8,12.3,12.6,13.3,13.7,14.8,15.1,15.3,15.5,17.4,18.3,19.0,19.3,19.5,19.8,20.1,20.3,20.6,20.8,22.0,23.8,24.4,25.5,27.3,27.5,27.7,28.2,28.8,29.4,30.8,33.8,37.6,40.1,40.4,40.7,43.3,45.8,47.0,47.9,51.8,57.0,57.4,58.1,63.1,63.5,65.0,65.9,69.2,71.2,71.6,72.0,80.1,81.2,82.6,84.2,88.5,88.6,92.3,93.5,94.9,96.1,97.1,98.9];

// ---------- drawing ----------
Chart.defaults.font.family = "'Liberation Sans', Arial, sans-serif";
const xLabel = 'high risk<------------->low risk';

function withAlpha(hex, a) {
  const n = parseInt(hex.slice(1), 16);
  return 'rgba(' + (n >> 16) + ',' + ((n >> 8) & 255) + ',' + (n & 255) + ',' + a + ')';
}

// later series are drawn on top (ggplot order); names in `underneath` go below everything
function drawLines(id, names, colors, series, yMin, yMax, ticks, axisWidth, pad, underneath) {
  new Chart(document.getElementById(id), {
    type: 'line',
    data: {
      datasets: series.map((s, i) => ({
        label: names[i],
        data: s.map(p => ({ x: p[0], y: p[1] })),
        borderColor: colors[i],
        borderWidth: 7,
        borderJoinStyle: 'round',
        pointRadius: 0,
        tension: 0,
        fill: false,
        order: underneath.includes(names[i]) ? series.length + 1 : series.length - i
      }))
    },
    options: {
      responsive: false,
      animation: false,
      layout: { padding: pad },
      plugins: { legend: { display: false }, tooltip: { enabled: false } },
      scales: {
        x: { type: 'linear', min: 0, max: 100, display: false },
        y: {
          min: yMin,
          max: yMax,
          afterBuildTicks: s => { s.ticks = ticks.map(v => ({ value: v })); },
          afterFit: s => { s.width = axisWidth; },
          border: { display: true, color: '#000', width: 2.5 },
          grid: {
            z: 1,
            lineWidth: 2.5,
            color: c => (c.tick && c.tick.value === 0 ? '#000' : 'rgba(0,0,0,0)'),
            drawTicks: true,
            tickLength: 7,
            tickWidth: 2,
            tickColor: '#333'
          },
          ticks: { color: '#4D4D4D', font: { size: 29 }, padding: 7, callback: v => v.toFixed(1) },
          title: { display: true, text: 'Enrichment Score', color: '#000', font: { size: 35 }, padding: { top: 10, bottom: 0 } }
        }
      }
    }
  });
}

function drawRug(id, colors, hits, rowPx, pad) {
  new Chart(document.getElementById(id), {
    type: 'scatter',
    data: {
      datasets: hits.map((h, i) => ({
        data: h.map(x => ({ x: x, y: i + 0.5 })),
        pointStyle: 'line',
        pointRotation: 90,
        pointRadius: rowPx / 2,
        pointHoverRadius: rowPx / 2,
        pointBorderColor: withAlpha(colors[i], 0.8),
        pointBorderWidth: 1.8,
        showLine: false
      }))
    },
    options: {
      responsive: false,
      animation: false,
      layout: { padding: pad },
      plugins: { legend: { display: false }, tooltip: { enabled: false } },
      scales: {
        x: {
          type: 'linear', min: 0, max: 100,
          grid: { display: false, drawTicks: false },
          border: { display: true, color: '#000', width: 3 },
          ticks: { display: false },
          title: { display: true, text: xLabel, color: '#000', font: { size: 38, lineHeight: 1 }, padding: { top: 1, bottom: 1 } }
        },
        y: { min: 0, max: hits.length, display: false }
      }
    }
  });
}

function drawLegend(names, colors, firstY, step, swLeft, swWidth, textLeft) {
  names.forEach((n, i) => {
    const c = firstY + step * i;
    const sw = document.createElement('div');
    sw.className = 'sw';
    sw.style.left = swLeft + 'px';
    sw.style.width = swWidth + 'px';
    sw.style.top = (c - 4.5) + 'px';
    sw.style.background = colors[i];
    document.body.appendChild(sw);
    const t = document.createElement('div');
    t.className = 'leg';
    t.style.left = textLeft + 'px';
    t.style.top = (c - 22) + 'px';
    t.textContent = n;
    document.body.appendChild(t);
  });
}

const tcgaSeries = [tcgaDnaRepair, tcgaE2fTargets, tcgaG2mCheckpoint, tcgaGlycolysis, tcgaMitoticSpindle, tcgaMtorc1Signaling,
  tcgaMycTargetsV1, tcgaMycTargetsV2, tcgaNotchSignaling, tcgaP53Pathway, tcgaPi3kAktMtorSignaling, tcgaProteinSecretion,
  tcgaSpermatogenesis, tcgaUnfoldedProteinResponse, tcgaUvResponseUp, tcgaWntBetaCateninSignaling];
const tcgaHits = [tcgaHitsDnaRepair, tcgaHitsE2fTargets, tcgaHitsG2mCheckpoint, tcgaHitsGlycolysis, tcgaHitsMitoticSpindle,
  tcgaHitsMtorc1Signaling, tcgaHitsMycTargetsV1, tcgaHitsMycTargetsV2, tcgaHitsNotchSignaling, tcgaHitsP53Pathway,
  tcgaHitsPi3kAktMtorSignaling, tcgaHitsProteinSecretion, tcgaHitsSpermatogenesis, tcgaHitsUnfoldedProteinResponse,
  tcgaHitsUvResponseUp, tcgaHitsWntBetaCateninSignaling];
const icgcSeries = [icgcDnaRepair, icgcE2fTargets, icgcG2mCheckpoint, icgcGlycolysis, icgcMtorc1Signaling,
  icgcMycTargetsV1, icgcMycTargetsV2, icgcPi3kAktMtorSignaling, icgcUnfoldedProteinResponse];
const icgcHits = [icgcHitsDnaRepair, icgcHitsE2fTargets, icgcHitsG2mCheckpoint, icgcHitsGlycolysis, icgcHitsMtorc1Signaling,
  icgcHitsMycTargetsV1, icgcHitsMycTargetsV2, icgcHitsPi3kAktMtorSignaling, icgcHitsUnfoldedProteinResponse];

drawLines('tcgaLines', tcgaNames, tcgaColors, tcgaSeries, -0.114, 0.83, tcgaTicks, 112, { top: 27, bottom: 18, left: 0, right: 31 }, tcgaUnderneath);
drawRug('tcgaRug', tcgaColors, tcgaHits, 12.9, { top: 20, bottom: 0, left: 112, right: 31 });
drawLines('icgcLines', icgcNames, icgcColors, icgcSeries, -0.058, 0.764, icgcTicks, 115, { top: 27, bottom: 15, left: 0, right: 2 }, []);
drawRug('icgcRug', icgcColors, icgcHits, 23.2, { top: 27, bottom: 0, left: 115, right: 2 });

drawLegend(tcgaNames, tcgaColors, 124, 44, 134, 35, 191);
drawLegend(icgcNames, icgcColors, 1687, 45, 137, 34, 194);
</script>
</body>
</html>
